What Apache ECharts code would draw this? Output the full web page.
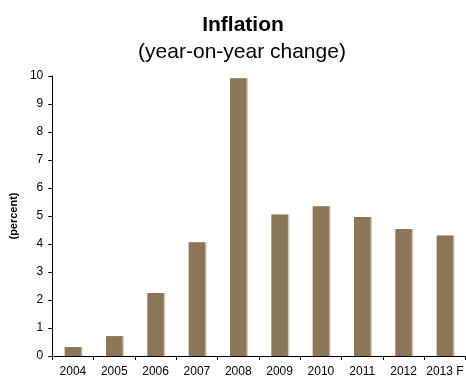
<!DOCTYPE html>
<html>
<head>
<meta charset="utf-8">
<script src="https://cdn.jsdelivr.net/npm/echarts@6/dist/echarts.min.js"></script>
<style>
  html, body { margin: 0; padding: 0; background: #fff; }
  #chart { width: 466px; height: 378px; }
</style>
</head>
<body>
<div id="chart"></div>
<script>
// Annual inflation, percent
const years = ['2004', '2005', '2006', '2007', '2008', '2009', '2010', '2011', '2012', '2013 F'];
const inflation = [0.32, 0.71, 2.25, 4.06, 9.92, 5.05, 5.35, 4.96, 4.54, 4.30];
const yTicks = { min: 0, max: 10, interval: 1 };

const FONT = '"Liberation Sans", Arial, sans-serif';
const chart = echarts.init(document.getElementById('chart'), null, { renderer: 'canvas' });

chart.setOption({
  backgroundColor: '#ffffff',
  animation: false,
  title: [
    {
      text: 'Inflation',
      left: 238, textAlign: 'center', top: 10,
      textStyle: { fontFamily: FONT, fontSize: 21, fontWeight: 'bold', color: '#000' }
    },
    {
      text: '(year-on-year change)',
      left: 237, textAlign: 'center', top: 37,
      textStyle: { fontFamily: FONT, fontSize: 21, fontWeight: 'normal', color: '#000' }
    }
  ],
  grid: { left: 44, top: 76, width: 425, height: 280, containLabel: false },
  xAxis: {
    type: 'category',
    data: years,
    axisLine: { lineStyle: { color: '#000', width: 1 } },
    axisTick: { show: true, length: 4, alignWithLabel: false, lineStyle: { color: '#000' } },
    axisLabel: { fontFamily: FONT, fontSize: 12, color: '#000', margin: 10, interval: 0 },
    splitLine: { show: false }
  },
  yAxis: {
    type: 'value',
    min: yTicks.min, max: yTicks.max, interval: yTicks.interval,
    name: '(percent)',
    nameLocation: 'middle',
    nameGap: 30,
    nameRotate: 90,
    nameTextStyle: { fontFamily: FONT, fontSize: 11, fontWeight: 'bold', color: '#000' },
    axisLine: { show: true, lineStyle: { color: '#000', width: 1 } },
    axisTick: { show: true, length: 4, lineStyle: { color: '#000' } },
    axisLabel: { fontFamily: FONT, fontSize: 12, color: '#000', margin: 9 },
    splitLine: { show: false }
  },
  series: [{
    type: 'bar',
    data: inflation,
    barWidth: '40%',
    itemStyle: {
      color: '#8B7757',
      shadowColor: '#d2c9bb', shadowOffsetX: 1.5, shadowOffsetY: 0, shadowBlur: 0
    }
  }]
});
</script>
</body>
</html>
